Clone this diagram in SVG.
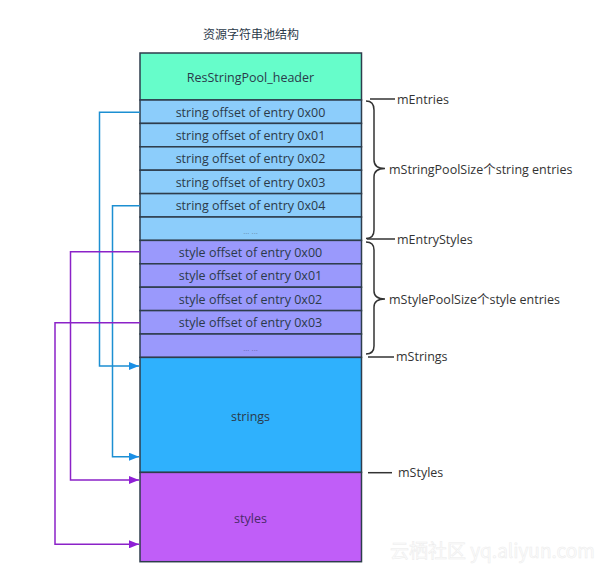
<svg xmlns="http://www.w3.org/2000/svg" width="600" height="573" viewBox="0 0 600 573">
<style>
text{font-family:"Open Sans",Lato,"Noto Sans CJK SC",sans-serif;font-size:12.5px;fill:#2b3a4a}
.c{text-anchor:middle;dominant-baseline:central}
.l{dominant-baseline:central;fill:#333}
.box{stroke:#2e3d4c;stroke-width:1.5}
.hdr{fill:#66fdca}
.sr{fill:#8ccdfb}
.st{fill:#9a99fc}
.ann{fill:none;stroke:#333;stroke-width:1.5}
.blue{fill:none;stroke:#1c8fd2;stroke-width:1.5}
.purp{fill:none;stroke:#8b22c8;stroke-width:1.5}
</style>
<defs>
<marker id="ab" markerWidth="10" markerHeight="8" refX="10" refY="4" orient="auto" markerUnits="userSpaceOnUse"><path d="M0,0 L10,4 L0,8 z" fill="#1a8fe6"/></marker>
<marker id="ap" markerWidth="10" markerHeight="8" refX="10" refY="4" orient="auto" markerUnits="userSpaceOnUse"><path d="M0,0 L10,4 L0,8 z" fill="#8f1fd6"/></marker>
</defs>
<rect width="600" height="573" fill="#fff"/>
<text x="251" y="33" class="c" style="font-family:'Noto Sans CJK SC',sans-serif;font-size:12px">资源字符串池结构</text>

<g id="header"><rect class="box hdr" x="140" y="53" width="221.5" height="47"/><text x="250.5" y="77" class="c">ResStringPool_header</text></g>
<g id="s0"><rect class="box sr" x="140" y="100" width="221.5" height="23.4"/><text x="250.5" y="112" class="c">string offset of entry 0x00</text></g>
<g id="s1"><rect class="box sr" x="140" y="123.4" width="221.5" height="23.4"/><text x="250.5" y="135.4" class="c">string offset of entry 0x01</text></g>
<g id="s2"><rect class="box sr" x="140" y="146.8" width="221.5" height="23.4"/><text x="250.5" y="158.8" class="c">string offset of entry 0x02</text></g>
<g id="s3"><rect class="box sr" x="140" y="170.2" width="221.5" height="23.4"/><text x="250.5" y="182.2" class="c">string offset of entry 0x03</text></g>
<g id="s4"><rect class="box sr" x="140" y="193.6" width="221.5" height="23.4"/><text x="250.5" y="205.6" class="c">string offset of entry 0x04</text></g>
<g id="s5"><rect class="box sr" x="140" y="217" width="221.5" height="23.4"/><text x="250.5" y="230" class="c" style="font-size:8px;fill:#6a8fb0">... ...</text></g>
<g id="t0"><rect class="box st" x="140" y="240.4" width="221.5" height="23.4"/><text x="250.5" y="252.4" class="c">style offset of entry 0x00</text></g>
<g id="t1"><rect class="box st" x="140" y="263.8" width="221.5" height="23.4"/><text x="250.5" y="275.8" class="c">style offset of entry 0x01</text></g>
<g id="t2"><rect class="box st" x="140" y="287.2" width="221.5" height="23.4"/><text x="250.5" y="299.2" class="c">style offset of entry 0x02</text></g>
<g id="t3"><rect class="box st" x="140" y="310.6" width="221.5" height="23.4"/><text x="250.5" y="322.6" class="c">style offset of entry 0x03</text></g>
<g id="t4"><rect class="box st" x="140" y="334" width="221.5" height="23.4"/><text x="250.5" y="347" class="c" style="font-size:8px;fill:#6a6ab0">... ...</text></g>
<g id="strings"><rect class="box" fill="#2fb1fd" x="140" y="357.4" width="221.5" height="115"/><text x="250.5" y="416" class="c">strings</text></g>
<g id="styles"><rect class="box" fill="#c05ef8" x="140" y="472.4" width="221.5" height="89.3"/><text x="250.5" y="518" class="c" style="fill:#4a2a6a">styles</text></g>

<g id="connectors">
<path class="blue" d="M140,112.3 H99.5 V366 H139" marker-end="url(#ab)"/>
<path class="blue" d="M140,205.7 H112.5 V456.7 H139" marker-end="url(#ab)"/>
<path class="purp" d="M140,251.7 H70.5 V480 H139" marker-end="url(#ap)"/>
<path class="purp" d="M140,322.7 H55 V544.3 H139" marker-end="url(#ap)"/>
</g>

<g id="annotations">
<path class="ann" d="M370,99 H395"/>
<text x="397" y="99" class="l">mEntries</text>
<path class="ann" d="M366,101 Q374,101 374,110 V160 Q374,168.5 385,168.5 Q374,168.5 374,177 V230 Q374,238.5 366,238.5"/>
<text x="389" y="169" class="l">mStringPoolSize个string entries</text>
<path class="ann" d="M367,239 H395"/>
<text x="397" y="239" class="l">mEntryStyles</text>
<path class="ann" d="M366,242 Q374,242 374,250 V291 Q374,299 385,299 Q374,299 374,307 V346 Q374,354 366,354"/>
<text x="389" y="299" class="l">mStylePoolSize个style entries</text>
<path class="ann" d="M368,357 H394"/>
<text x="396" y="356" class="l">mStrings</text>
<path class="ann" d="M368,472.7 H392"/>
<text x="398" y="472" class="l">mStyles</text>
</g>
<text x="390" y="558" style="font-family:'Noto Sans CJK SC',sans-serif;font-size:19px;fill:#fcfcfc;stroke:#ececec;stroke-width:0.5">云栖社区 yq.aliyun.com</text>
</svg>
